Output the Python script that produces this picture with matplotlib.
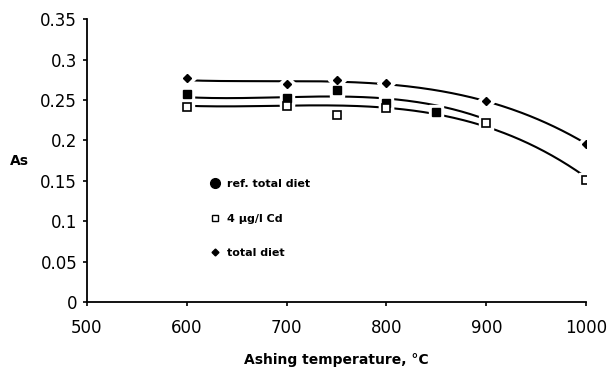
import numpy as np
import matplotlib.pyplot as plt
from matplotlib.lines import Line2D

plt.rcParams['font.family'] = ['DejaVu Sans']

t_ref = [600, 700, 750, 800, 850]
as_ref = [0.257, 0.253, 0.262, 0.246, 0.235]

t_cd = [600, 700, 750, 800, 900, 1000]
as_cd = [0.241, 0.242, 0.231, 0.240, 0.221, 0.151]

t_tot = [600, 700, 750, 800, 900, 1000]
as_tot = [0.277, 0.270, 0.2745, 0.271, 0.249, 0.195]

# fitted trend lines
fit_t_ref = [600, 700, 800, 850, 893]
fit_ref = [0.2535, 0.2535, 0.252, 0.243, 0.229]

fit_t_cd = [600, 700, 800, 850, 900, 950, 1000]
fit_cd = [0.243, 0.2425, 0.241, 0.232, 0.218, 0.190, 0.155]

fit_t_tot = [600, 700, 800, 850, 900, 950, 1000]
fit_tot = [0.2745, 0.273, 0.270, 0.262, 0.248, 0.227, 0.196]

labels = ['ref. total diet', '4 \u00b5g/l Cd', 'total diet']

fig = plt.figure(figsize=(6.08, 3.68), dpi=100)
ax = fig.add_axes([0.143, 0.179, 0.821, 0.769])

def smooth(t, v):
    p = np.polyfit(t, v, 3)
    xx = np.linspace(min(t), max(t), 200)
    return xx, np.polyval(p, xx)

for t, v in [(fit_t_ref, fit_ref), (fit_t_cd, fit_cd), (fit_t_tot, fit_tot)]:
    xx, yy = smooth(t, v)
    ax.plot(xx, yy, color='black', lw=1.5, zorder=2)

# white halo so lines break at markers
ax.plot(t_tot, as_tot, ls='none', marker='D', ms=9, color='white', zorder=3)
ax.plot(t_ref, as_ref, ls='none', marker='s', ms=10, color='white', zorder=3)
ax.plot(t_cd, as_cd, ls='none', marker='s', ms=10, color='white', zorder=3)

ax.plot(t_tot, as_tot, ls='none', marker='D', ms=4, color='black', zorder=4)
ax.plot(t_ref, as_ref, ls='none', marker='s', ms=5.5, color='black', zorder=4)
ax.plot(t_cd, as_cd, ls='none', marker='s', ms=5.5, mfc='white', mec='black', mew=1.2, zorder=5)

ax.set_xlim(500, 1000)
ax.set_ylim(0, 0.35)
ax.set_xticks([500, 600, 700, 800, 900, 1000])
ax.set_yticks([0, 0.05, 0.1, 0.15, 0.2, 0.25, 0.3, 0.35])
ax.set_yticklabels(['0', '0.05', '0.1', '0.15', '0.2', '0.25', '0.3', '0.35'])
for s in ['top', 'right']:
    ax.spines[s].set_visible(False)
ax.spines['left'].set_linewidth(1.3)
ax.spines['bottom'].set_linewidth(1.3)
ax.tick_params(direction='out', length=3, width=1.2, labelsize=12)
ax.tick_params(axis='y', pad=4)
ax.tick_params(axis='x', pad=9)

ax.set_xlabel('Ashing temperature, \u00b0C', fontsize=10, fontweight='bold', labelpad=12)
fig.text(0.016, 0.563, 'As', fontsize=10, fontweight='bold', va='center')

handles = [
    Line2D([], [], ls='none', marker='o', ms=7, color='black'),
    Line2D([], [], ls='none', marker='s', ms=5, mfc='white', mec='black'),
    Line2D([], [], ls='none', marker='D', ms=3.5, color='black'),
]
leg = ax.legend(handles, labels, loc='upper left', bbox_to_anchor=(0.225, 0.47),
                frameon=False, labelspacing=2.2, handletextpad=0.5,
                handlelength=1.1, prop={'size': 8, 'weight': 'bold'})

fig.savefig('out.png', dpi=100)
